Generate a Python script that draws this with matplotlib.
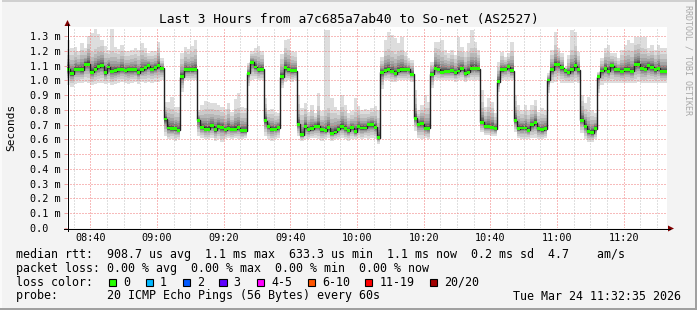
import matplotlib
matplotlib.use("Agg")
import matplotlib.pyplot as plt
from matplotlib.lines import Line2D
from matplotlib.patches import Polygon, Rectangle
import numpy as np

plt.rcParams["font.family"] = "DejaVu Sans Mono"


# =========================
# Data (ms, one value per minute starting 08:33)
# =========================
start_time = "08:33"

median_ms = [
    1.074, 1.045, 1.076, 1.076, 1.070, 1.110, 1.110, 1.056, 1.076, 1.092,
    1.099, 1.050, 1.090, 1.061, 1.065, 1.070, 1.076, 1.065, 1.070, 1.070,
    1.070, 1.052, 1.070, 1.085, 1.099, 1.076, 1.085, 1.099, 1.080, 0.738,
    0.677, 0.672, 0.672, 0.663, 1.024, 1.070, 1.070, 1.070, 1.075,
    0.731, 0.682, 0.670, 0.670, 0.691, 0.664, 0.687, 0.680, 0.664, 0.675,
    0.670, 0.670, 0.680, 0.657, 0.657,
    1.047, 1.122, 1.090, 1.070, 1.075,
    0.727, 0.687, 0.670, 0.670, 0.680,
    1.025, 1.085, 1.070, 1.065, 1.065,
    0.702, 0.630, 0.686, 0.666, 0.673, 0.690, 0.690, 0.664, 0.659, 0.680,
    0.641, 0.650, 0.670, 0.684, 0.673, 0.657, 0.680, 0.652, 0.686, 0.677,
    0.677, 0.698, 0.698, 0.682, 0.610,
    1.054, 1.065, 1.074, 1.061, 1.045, 1.065, 1.070, 1.070, 1.074, 1.041,
    0.743, 0.702, 0.707, 0.675, 0.675,
    1.041, 1.083, 1.074, 1.056, 1.061, 1.061, 1.065, 1.052, 1.063, 1.078,
    1.045, 1.056, 1.083, 1.083, 1.078,
    0.716, 0.686, 0.686, 0.682, 0.673,
    0.991, 1.070, 1.076, 1.092, 1.065,
    0.726, 0.673, 0.677, 0.677, 0.661, 0.698, 0.714, 0.673, 0.664, 0.673,
    1.002, 1.072, 1.106, 1.106, 1.085, 1.065, 1.052, 1.072, 1.097, 1.072,
    0.731, 0.690, 0.652, 0.645, 0.673,
    1.025, 1.063, 1.081, 1.061, 1.097, 1.070, 1.070, 1.061, 1.070, 1.070,
    1.061, 1.106, 1.110, 1.081, 1.076, 1.097, 1.088, 1.070, 1.083, 1.061,
    1.061,
]

smoke_top_ms = [
    1.273, 1.216, 1.228, 1.200, 1.250, 1.220, 1.300, 1.318, 1.345, 1.313,
    1.273, 1.232, 1.205, 1.345, 1.228, 1.210, 1.240, 1.196, 1.196, 1.205,
    1.216, 1.205, 1.250, 1.220, 1.183, 1.196, 1.200, 1.260, 1.149, 0.850,
    0.856, 0.890, 0.820, 0.820, 1.183, 1.228, 1.210, 1.230, 1.273,
    0.799, 0.833, 0.862, 0.855, 0.844, 0.848, 0.833, 0.820, 0.803, 0.848,
    0.787, 0.871, 0.916, 0.822, 0.815,
    1.120, 1.200, 1.220, 1.230, 1.200,
    0.877, 0.799, 0.803, 0.787, 0.780,
    1.180, 1.270, 1.280, 1.200, 1.190,
    0.900, 0.810, 0.844, 0.788, 0.833, 0.776, 0.912, 0.790, 1.340, 1.340,
    0.878, 0.822, 0.799, 0.900, 0.833, 0.776, 0.790, 0.878, 0.826, 0.799,
    0.803, 0.799, 0.810, 0.826, 0.799,
    1.160, 1.273, 1.329, 1.307, 1.284, 1.250, 1.296, 1.194, 1.149, 1.140,
    0.934, 0.799, 0.833, 0.900, 0.855,
    1.126, 1.262, 1.262, 1.273, 1.205, 1.183, 1.205, 1.171, 1.296, 1.228,
    1.194, 1.250, 1.340, 1.262, 1.205,
    0.934, 0.822, 0.878, 0.855, 0.776,
    1.126, 1.194, 1.160, 1.183, 1.262,
    0.900, 0.833, 0.799, 0.833, 0.799, 0.833, 0.866, 0.788, 0.810, 0.799,
    1.047, 1.205, 1.329, 1.217, 1.183, 1.092, 1.171, 1.340, 1.330, 1.194,
    0.900, 0.844, 0.889, 0.799, 0.776,
    1.058, 1.149, 1.217, 1.239, 1.183, 1.183, 1.149, 1.205, 1.239, 1.273,
    1.250, 1.296, 1.296, 1.296, 1.296, 1.217, 1.239, 1.205, 1.239, 1.217,
    1.217,
]

smoke_bottom_ms = [
    0.968, 0.957, 0.975, 0.979, 0.985, 0.990, 0.985, 0.968, 0.975, 0.980,
    0.985, 0.975, 0.985, 0.968, 0.975, 0.985, 0.990, 0.985, 0.975, 0.985,
    0.990, 0.975, 0.990, 0.985, 0.990, 0.985, 0.990, 0.990, 1.000, 0.620,
    0.600, 0.605, 0.590, 0.600, 0.920, 1.000, 1.000, 1.000, 1.000,
    0.620, 0.610, 0.600, 0.600, 0.610, 0.590, 0.600, 0.580, 0.600, 0.610,
    0.600, 0.610, 0.600, 0.600, 0.610,
    0.960, 1.000, 1.010, 1.000, 1.000,
    0.620, 0.600, 0.590, 0.600, 0.610,
    0.950, 0.990, 1.000, 0.990, 1.000,
    0.620, 0.590, 0.600, 0.600, 0.610, 0.610, 0.600, 0.590, 0.600, 0.610,
    0.590, 0.600, 0.600, 0.610, 0.600, 0.590, 0.600, 0.600, 0.610, 0.600,
    0.610, 0.600, 0.610, 0.600, 0.570,
    0.940, 1.000, 1.000, 0.990, 0.990, 1.000, 1.000, 1.000, 1.000, 0.990,
    0.660, 0.610, 0.600, 0.610, 0.600,
    0.946, 1.000, 1.000, 1.000, 1.000, 1.000, 1.000, 0.990, 1.000, 1.000,
    0.990, 1.000, 1.000, 1.000, 1.000,
    0.650, 0.630, 0.630, 0.620, 0.620,
    0.923, 1.000, 1.000, 1.000, 1.000,
    0.650, 0.610, 0.600, 0.600, 0.600, 0.610, 0.610, 0.600, 0.600, 0.610,
    0.916, 0.980, 0.990, 1.000, 0.980, 0.980, 0.980, 0.980, 0.990, 0.980,
    0.640, 0.600, 0.580, 0.580, 0.600,
    0.912, 0.970, 0.980, 0.980, 0.980, 0.980, 0.980, 0.980, 0.980, 0.980,
    0.980, 0.980, 0.990, 0.980, 0.980, 0.980, 0.980, 0.980, 0.980, 0.980,
    0.980,
]

time_labels = ["08:40", "09:00", "09:20", "09:40", "10:00",
               "10:20", "10:40", "11:00", "11:20"]
y_ticks = [0.0, 0.1, 0.2, 0.3, 0.4, 0.5, 0.6, 0.7, 0.8, 0.9, 1.0, 1.1, 1.2, 1.3]
y_labels = ["0.0  ", "0.1 m", "0.2 m", "0.3 m", "0.4 m", "0.5 m", "0.6 m",
            "0.7 m", "0.8 m", "0.9 m", "1.0 m", "1.1 m", "1.2 m", "1.3 m"]

loss_labels = ["0", "1", "2", "3", "4-5", "6-10", "11-19", "20/20"]
loss_colors = ["#26ff00", "#00b8ff", "#0059ff", "#5e00ff",
               "#ff00ff", "#ff5500", "#ff0000", "#a10000"]

title = "Last 3 Hours from a7c685a7ab40 to So-net (AS2527)"
rtt_line = "median rtt:  908.7 us avg  1.1 ms max  633.3 us min  1.1 ms now  0.2 ms sd  4.7    am/s"
loss_line = "packet loss: 0.00 % avg  0.00 % max  0.00 % min  0.00 % now"
probe_line = "probe:       20 ICMP Echo Pings (56 Bytes) every 60s"
stamp = "Tue Mar 24 11:32:35 2026"

# smoke shading: outer band lightest, inner darkest (smokeping style)
band_frac = [1.0, 0.75, 0.55, 0.40, 0.29, 0.21, 0.15, 0.10, 0.06, 0.03]
band_gray = [221, 202, 183, 164, 145, 126, 107, 88, 69, 50]
inner_cap = 0.18   # inner bands do not follow single tall spikes


# =========================
# Helpers
# =========================
W, H = 697, 310


def fx(px):
    return px / W


def fy(py):
    return 1 - py / H


def to_minutes(label):
    h, m = label.split(":")
    h0, m0 = start_time.split(":")
    return int(h) * 60 + int(m) - (int(h0) * 60 + int(m0))


# =========================
# Figure
# =========================
fig = plt.figure(figsize=(W / 100, H / 100), dpi=100, facecolor="#f3f3f3")
ax = fig.add_axes([fx(67), fy(228), 600 / W, 201 / H])
ax.set_facecolor("white")
for s in ax.spines.values():
    s.set_visible(False)

med = np.array(median_ms)
top = np.array(smoke_top_ms)
bot = np.array(smoke_bottom_ms)
edges = np.arange(len(med) + 1)

for f, g in zip(band_frac, band_gray):
    up = top - med
    if f < 1:
        up = np.minimum(up, inner_cap)
    hi = med + up * f
    lo = med - (med - bot) * f
    ax.stairs(hi, edges, baseline=lo, fill=True,
              color="#%02x%02x%02x" % (g, g, g), lw=0, zorder=1)

ax.stairs(med, edges, baseline=None, color="#202020", lw=1.0, zorder=3)
ax.stairs(med + 0.010, edges, baseline=med - 0.010, fill=True,
          color=loss_colors[0], lw=0, zorder=3.2)

ax.set_xlim(0, 180)
ax.set_ylim(0, 201 / 147.7)

# ticks and grid (dotted, drawn over the smoke like rrdtool)
major_pos = [to_minutes(t) for t in time_labels]
minor_pos = [m for m in range(2, 180, 5) if m not in major_pos]
ax.set_xticks(major_pos, time_labels)
ax.set_xticks(minor_pos, minor=True)
ax.set_yticks(y_ticks, y_labels)
ax.set_axisbelow(False)
ax.grid(which="minor", axis="x", color="#c0c0c0", ls=(0, (1, 2)), lw=0.72)
ax.grid(which="major", axis="both", color="#f07878", ls=(0, (1, 2)), lw=0.72)

ax.tick_params(axis="x", which="both", length=0, pad=3.6, labelsize=7.3)
ax.tick_params(axis="y", length=2.2, width=0.72, color="#f0a0a0",
               pad=24.8, labelsize=7.3)
for lab in ax.get_yticklabels():
    lab.set_horizontalalignment("left")

# axis lines with arrows
fig.add_artist(Line2D([fx(67.5), fx(67.5)], [fy(231), fy(24)],
                      transform=fig.transFigure, color="black", lw=0.72,
                      antialiased=False))
fig.add_artist(Line2D([fx(64), fx(670)], [fy(228.5), fy(228.5)],
                      transform=fig.transFigure, color="black", lw=0.72,
                      antialiased=False))
fig.add_artist(Polygon([(fx(64.5), fy(26)), (fx(70.5), fy(26)), (fx(67.5), fy(20))],
                       closed=True, transform=fig.transFigure,
                       color="#800000", lw=0))
fig.add_artist(Polygon([(fx(668), fy(225.5)), (fx(668), fy(231.5)), (fx(674), fy(228.5))],
                       closed=True, transform=fig.transFigure,
                       color="#800000", lw=0))

# =========================
# Texts
# =========================
fig.text(0.5, fy(19), title, ha="center", va="center", size=9.3)
fig.text(fx(11), fy(127), "Seconds", rotation=90, ha="center",
         va="center", size=8)
fig.text(fx(688), fy(60), "RRDTOOL / TOBI OETIKER", rotation=270,
         ha="center", va="center", size=6, color="#a8a8a8")

row_y = [254.5, 268.3, 282.3, 296]
fig.text(fx(16), fy(row_y[0]), rtt_line, va="center", size=8.4)
fig.text(fx(16), fy(row_y[1]), loss_line, va="center", size=8.4)
fig.text(fx(16), fy(row_y[2]), "loss color:", va="center", size=8.4)
fig.text(fx(16), fy(row_y[3]), probe_line, va="center", size=8.4)
fig.text(fx(681), fy(row_y[3]), stamp, ha="right", va="center", size=8.4)

box_x = [108.7, 145.7, 182.7, 219.3, 256.7, 307.7, 365.0, 430.0]
for bx, lab, col in zip(box_x, loss_labels, loss_colors):
    fig.add_artist(Rectangle((fx(bx), fy(row_y[2] + 3.8)), 7.3 / W, 7.3 / H,
                             transform=fig.transFigure, facecolor=col,
                             edgecolor="black", lw=0.8))
    fig.text(fx(bx + 14.3), fy(row_y[2]), lab, va="center", size=8.4)

# frame shading
fig.add_artist(Rectangle((0, fy(2)), 1, 2 / H, transform=fig.transFigure,
                         color="#d0d0d0", lw=0))
fig.add_artist(Rectangle((0, 0), 2 / W, 1, transform=fig.transFigure,
                         color="#fafafa", lw=0))
fig.add_artist(Rectangle((0, 0), 1, 2 / H, transform=fig.transFigure,
                         color="#a0a0a0", lw=0))
fig.add_artist(Rectangle((fx(695), 0), 2 / W, 1, transform=fig.transFigure,
                         color="#a0a0a0", lw=0))

fig.savefig("out.png", dpi=100, facecolor=fig.get_facecolor())
plt.close()
